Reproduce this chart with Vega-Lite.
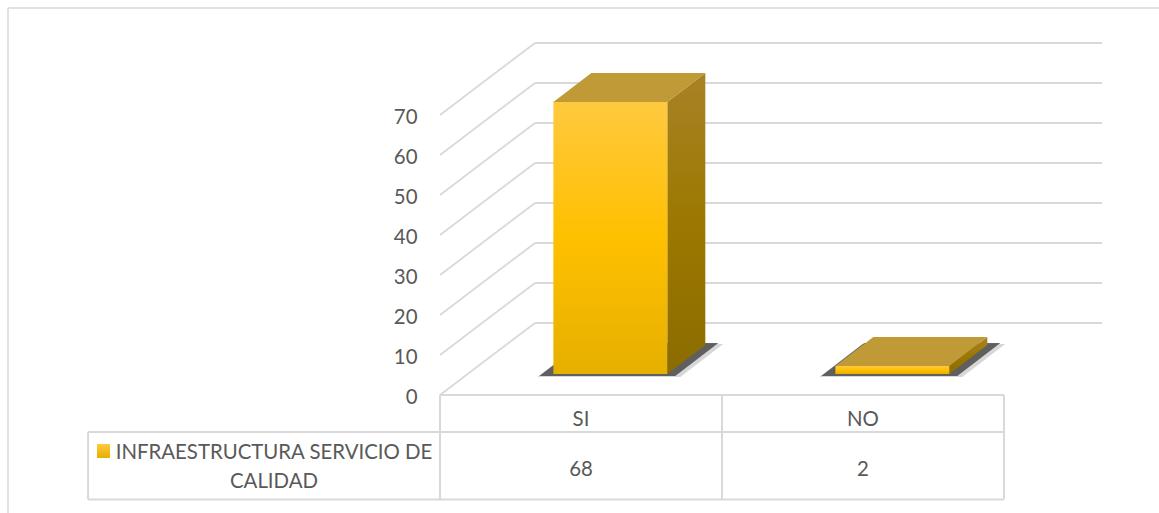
{
"$schema":"https://vega.github.io/schema/vega-lite/v6.json",
"width":1151,"height":505,
"autosize":{"type":"none"},
"padding":{"left":8,"top":8,"right":0,"bottom":0},
"background":"white",
"config":{"view":{"stroke":null},"axisX":{"disable":true},"text":{"font":"Lato","fontSize":20.4,"color":"#595959"}},
"datasets":{
"bars":[{"category":"SI","value":68},{"category":"NO","value":2}],
"levels":[{"level":0},{"level":10},{"level":20},{"level":30},{"level":40},{"level":50},{"level":60},{"level":70}],
"series":[{"series":"INFRAESTRUCTURA SERVICIO DE|CALIDAD"}],
"one":[{"item":"line"}]
},
"layer":[
{"data":{"name":"levels"},"transform":[{"calculate":"datum.level+18","as":"back"}],
 "mark":{"type":"rule","color":"#D9D9D9","strokeWidth":1.8},
 "encoding":{
  "x":{"datum":0,"type":"quantitative","scale":{"domain":[-1.5319,2.5496],"nice":false,"zero":false}},
  "x2":{"datum":0.337},
  "y":{"field":"level","type":"quantitative","title":null,"scale":{"domain":[-29.5,96.75],"nice":false,"zero":false},
   "axis":{"values":[0,10,20,30,40,50,60,70],"offset":-409,"labelPadding":0,"labelOffset":2,"ticks":false,"domain":false,"grid":false,"labelFont":"Lato","labelFontSize":20.4,"labelColor":"#595959"}},
  "y2":{"field":"back"}
 }},
{"data":{"name":"levels"},"transform":[{"calculate":"datum.level+18","as":"back"}],
 "mark":{"type":"rule","color":"#D9D9D9","strokeWidth":1.8},
 "encoding":{"x":{"datum":0.337,"type":"quantitative"},"x2":{"datum":2.348},"y":{"field":"back","type":"quantitative","title":null}}},
{"data":{"name":"one"},"mark":{"type":"rule","color":"#D9D9D9","strokeWidth":1.5},"encoding":{"y":{"datum":96.75,"type":"quantitative"}}},
{"data":{"name":"one"},"mark":{"type":"rule","color":"#D9D9D9","strokeWidth":1.5},"encoding":{"x":{"datum":-1.5319,"type":"quantitative"}}},
{"data":{"name":"one"},"mark":{"type":"rule","color":"#D9D9D9","strokeWidth":2},"encoding":{"x":{"datum":0,"type":"quantitative"},"x2":{"datum":2},"y":{"datum":0,"type":"quantitative"}}},
{"data":{"name":"one"},"mark":{"type":"rule","color":"#D9D9D9","strokeWidth":2},"encoding":{"x":{"datum":-1.248,"type":"quantitative"},"x2":{"datum":2},"y":{"datum":-9.25,"type":"quantitative"}}},
{"data":{"name":"one"},"mark":{"type":"rule","color":"#D9D9D9","strokeWidth":2},"encoding":{"x":{"datum":-1.248,"type":"quantitative"},"x2":{"datum":2},"y":{"datum":-26.1,"type":"quantitative"}}},
{"data":{"name":"one"},"mark":{"type":"rule","color":"#D9D9D9","strokeWidth":2},"encoding":{"x":{"datum":-1.248,"type":"quantitative"},"y":{"datum":-9.25,"type":"quantitative"},"y2":{"datum":-26.1}}},
{"data":{"name":"one"},"mark":{"type":"rule","color":"#D9D9D9","strokeWidth":2},"encoding":{"x":{"datum":0,"type":"quantitative"},"y":{"datum":0,"type":"quantitative"},"y2":{"datum":-26.1}}},
{"data":{"name":"one"},"mark":{"type":"rule","color":"#D9D9D9","strokeWidth":2},"encoding":{"x":{"datum":1,"type":"quantitative"},"y":{"datum":0,"type":"quantitative"},"y2":{"datum":-26.1}}},
{"data":{"name":"one"},"mark":{"type":"rule","color":"#D9D9D9","strokeWidth":2},"encoding":{"x":{"datum":2,"type":"quantitative"},"y":{"datum":0,"type":"quantitative"},"y2":{"datum":-26.1}}},
{"data":{"name":"bars"},
 "transform":[{"calculate":"indexof(['SI','NO'],datum.category)","as":"idx"},{"calculate":"[0,1]","as":"t"},{"flatten":["t"]},
  {"calculate":"datum.t*7.25+datum.value+5.25","as":"topY"},
  {"calculate":"datum.t*7.25+5.25","as":"baseY"},
  {"calculate":"datum.idx+0.806+datum.t*0.1348","as":"sideX"},
  {"calculate":"datum.idx+0.402+datum.t*0.1348","as":"topX0"},
  {"calculate":"datum.idx+0.352+datum.t*0.1525","as":"shX0"},
  {"calculate":"datum.idx+0.8415+datum.t*0.1525","as":"shX1"},
  {"calculate":"4.75+datum.t*8.25","as":"shY"}],
 "layer":[
  {"mark":{"type":"area","orient":"horizontal","color":"#8c8c8c","opacity":0.35,"xOffset":-2,"x2Offset":3,"yOffset":1},
   "encoding":{"y":{"field":"shY","type":"quantitative","title":null},"x":{"field":"shX0","type":"quantitative"},"x2":{"field":"shX1"},"detail":{"field":"category"}}},
  {"mark":{"type":"area","orient":"horizontal","color":"#4a4a4a","opacity":0.85,"x2Offset":-2},
   "encoding":{"y":{"field":"shY","type":"quantitative","title":null},"x":{"field":"shX0","type":"quantitative"},"x2":{"field":"shX1"},"detail":{"field":"category"}}},
  {"mark":{"type":"area","orient":"vertical","color":{"x1":0,"y1":0,"x2":0,"y2":1,"gradient":"linear","stops":[{"offset":0,"color":"#A88226"},{"offset":0.5,"color":"#9C7800"},{"offset":1,"color":"#8C6C00"}]}},
   "encoding":{"x":{"field":"sideX","type":"quantitative"},"y":{"field":"topY","type":"quantitative","title":null},"y2":{"field":"baseY"},"detail":{"field":"category"}}},
  {"mark":{"type":"area","orient":"horizontal","color":"#BF9A36"},
   "encoding":{"y":{"field":"topY","type":"quantitative","title":null},"x":{"field":"topX0","type":"quantitative"},"x2":{"field":"sideX"},"detail":{"field":"category"}}}
 ]},
{"data":{"name":"bars"},
 "transform":[{"calculate":"indexof(['SI','NO'],datum.category)","as":"idx"},
  {"calculate":"datum.idx+0.402","as":"x0"},{"calculate":"datum.idx+0.806","as":"x1"},{"calculate":"datum.value+5.25","as":"top"},{"calculate":"5.25","as":"base"},
  {"calculate":"datum.idx+0.5","as":"mid"},{"calculate":"-6.25","as":"catY"},{"calculate":"-18.75","as":"valY"}],
 "layer":[
  {"mark":{"type":"rect","color":{"x1":0,"y1":0,"x2":0,"y2":1,"gradient":"linear","stops":[{"offset":0,"color":"#FFC93F"},{"offset":0.5,"color":"#FFC000"},{"offset":1,"color":"#E6B000"}]}},
   "encoding":{"x":{"field":"x0","type":"quantitative"},"x2":{"field":"x1"},"y":{"field":"top","type":"quantitative","title":null},"y2":{"field":"base"}}},
  {"mark":{"type":"text"},"encoding":{"x":{"field":"mid","type":"quantitative"},"y":{"field":"catY","type":"quantitative","title":null},"text":{"field":"category"}}},
  {"mark":{"type":"text"},"encoding":{"x":{"field":"mid","type":"quantitative"},"y":{"field":"valY","type":"quantitative","title":null},"text":{"field":"value"}}}
 ]},
{"data":{"name":"series"},"mark":{"type":"text","lineBreak":"|","lineHeight":29},
 "encoding":{"x":{"datum":-0.5887,"type":"quantitative"},"y":{"datum":-14.6,"type":"quantitative"},"text":{"field":"series"}}},
{"data":{"name":"series"},"mark":{"type":"rect","color":{"x1":0,"y1":0,"x2":0,"y2":1,"gradient":"linear","stops":[{"offset":0,"color":"#FFC93F"},{"offset":1,"color":"#E6B000"}]}},
 "encoding":{"x":{"datum":-1.2163,"type":"quantitative"},"x2":{"datum":-1.1702},"y":{"datum":-12.25,"type":"quantitative"},"y2":{"datum":-15.75}}}
]
}
